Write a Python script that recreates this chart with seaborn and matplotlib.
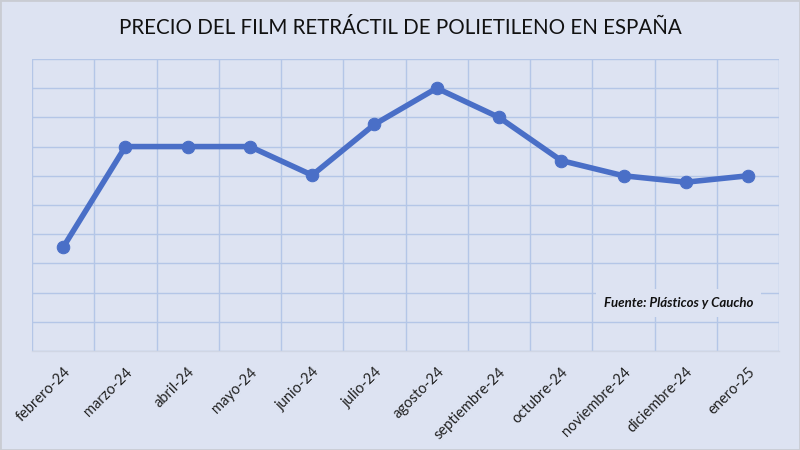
import matplotlib
matplotlib.use("Agg")
import matplotlib.pyplot as plt
import seaborn as sns
import pandas as pd
from matplotlib.patches import Rectangle

# Monthly price index (read from the gridlines, no axis values shown)
meses = ["febrero-24", "marzo-24", "abril-24", "mayo-24", "junio-24", "julio-24",
         "agosto-24", "septiembre-24", "octubre-24", "noviembre-24", "diciembre-24", "enero-25"]
precio = [3.55, 7.0, 7.0, 7.0, 6.02, 7.76, 9.0, 8.0, 6.52, 6.0, 5.78, 6.0]

bg = "#dde3f2"
grid_col = "#b4c6e7"
line_col = "#4a6fc7"

sns.set_theme(style="white")
plt.rcParams["font.family"] = ["Lato", "DejaVu Sans"]

df = pd.DataFrame({"mes": meses, "precio": precio})

fig = plt.figure(figsize=(8, 4.5), dpi=100, facecolor=bg)
ax = fig.add_axes([0.04, 0.22, 0.934, 0.649])
ax.set_facecolor(bg)

sns.lineplot(data=df, x="mes", y="precio", ax=ax, color=line_col, linewidth=4,
             marker="o", markersize=9, markeredgecolor=line_col, sort=False)

ax.set_xlim(-0.5, len(meses) - 0.5)
ax.set_ylim(0, 10)
ax.set_yticks(range(0, 11))
ax.set_yticklabels([])
ax.tick_params(axis="y", length=0)

ax.set_xticks(range(len(meses)))
ax.set_xticklabels(meses, rotation=45, ha="right", rotation_mode="anchor", fontsize=10.5, color="#222222")
ax.set_xticks([i - 0.5 for i in range(len(meses) + 1)], minor=True)
ax.tick_params(axis="x", which="major", length=0, pad=10)
ax.tick_params(axis="x", which="minor", length=5, color="#d0d6e4", width=1)

ax.grid(True, axis="y", color=grid_col, linewidth=1)
ax.grid(True, axis="x", which="minor", color=grid_col, linewidth=1)
ax.set_axisbelow(True)

for s in ["top", "right", "left"]:
    ax.spines[s].set_visible(False)
ax.spines["bottom"].set_color("#d0d6e4")
ax.spines["bottom"].set_linewidth(1)

ax.set_xlabel("")
ax.set_ylabel("")

ax.text(0.865, 0.164, "Fuente: Plásticos y Caucho", transform=ax.transAxes,
        ha="center", va="center", fontsize=9.5, fontweight="bold", fontstyle="italic",
        color="#111111",
        bbox=dict(facecolor=bg, edgecolor="none", boxstyle="square,pad=0.6"))

fig.text(0.5, 0.937, "PRECIO DEL FILM RETRÁCTIL DE POLIETILENO EN ESPAÑA",
         ha="center", va="center", fontsize=14.8, color="#111111")

fig.patches.append(Rectangle((0, 0), 1, 1, transform=fig.transFigure, fill=False,
                             edgecolor="#c9ccd3", linewidth=2))

fig.savefig("out.png", dpi=100, facecolor=bg)
